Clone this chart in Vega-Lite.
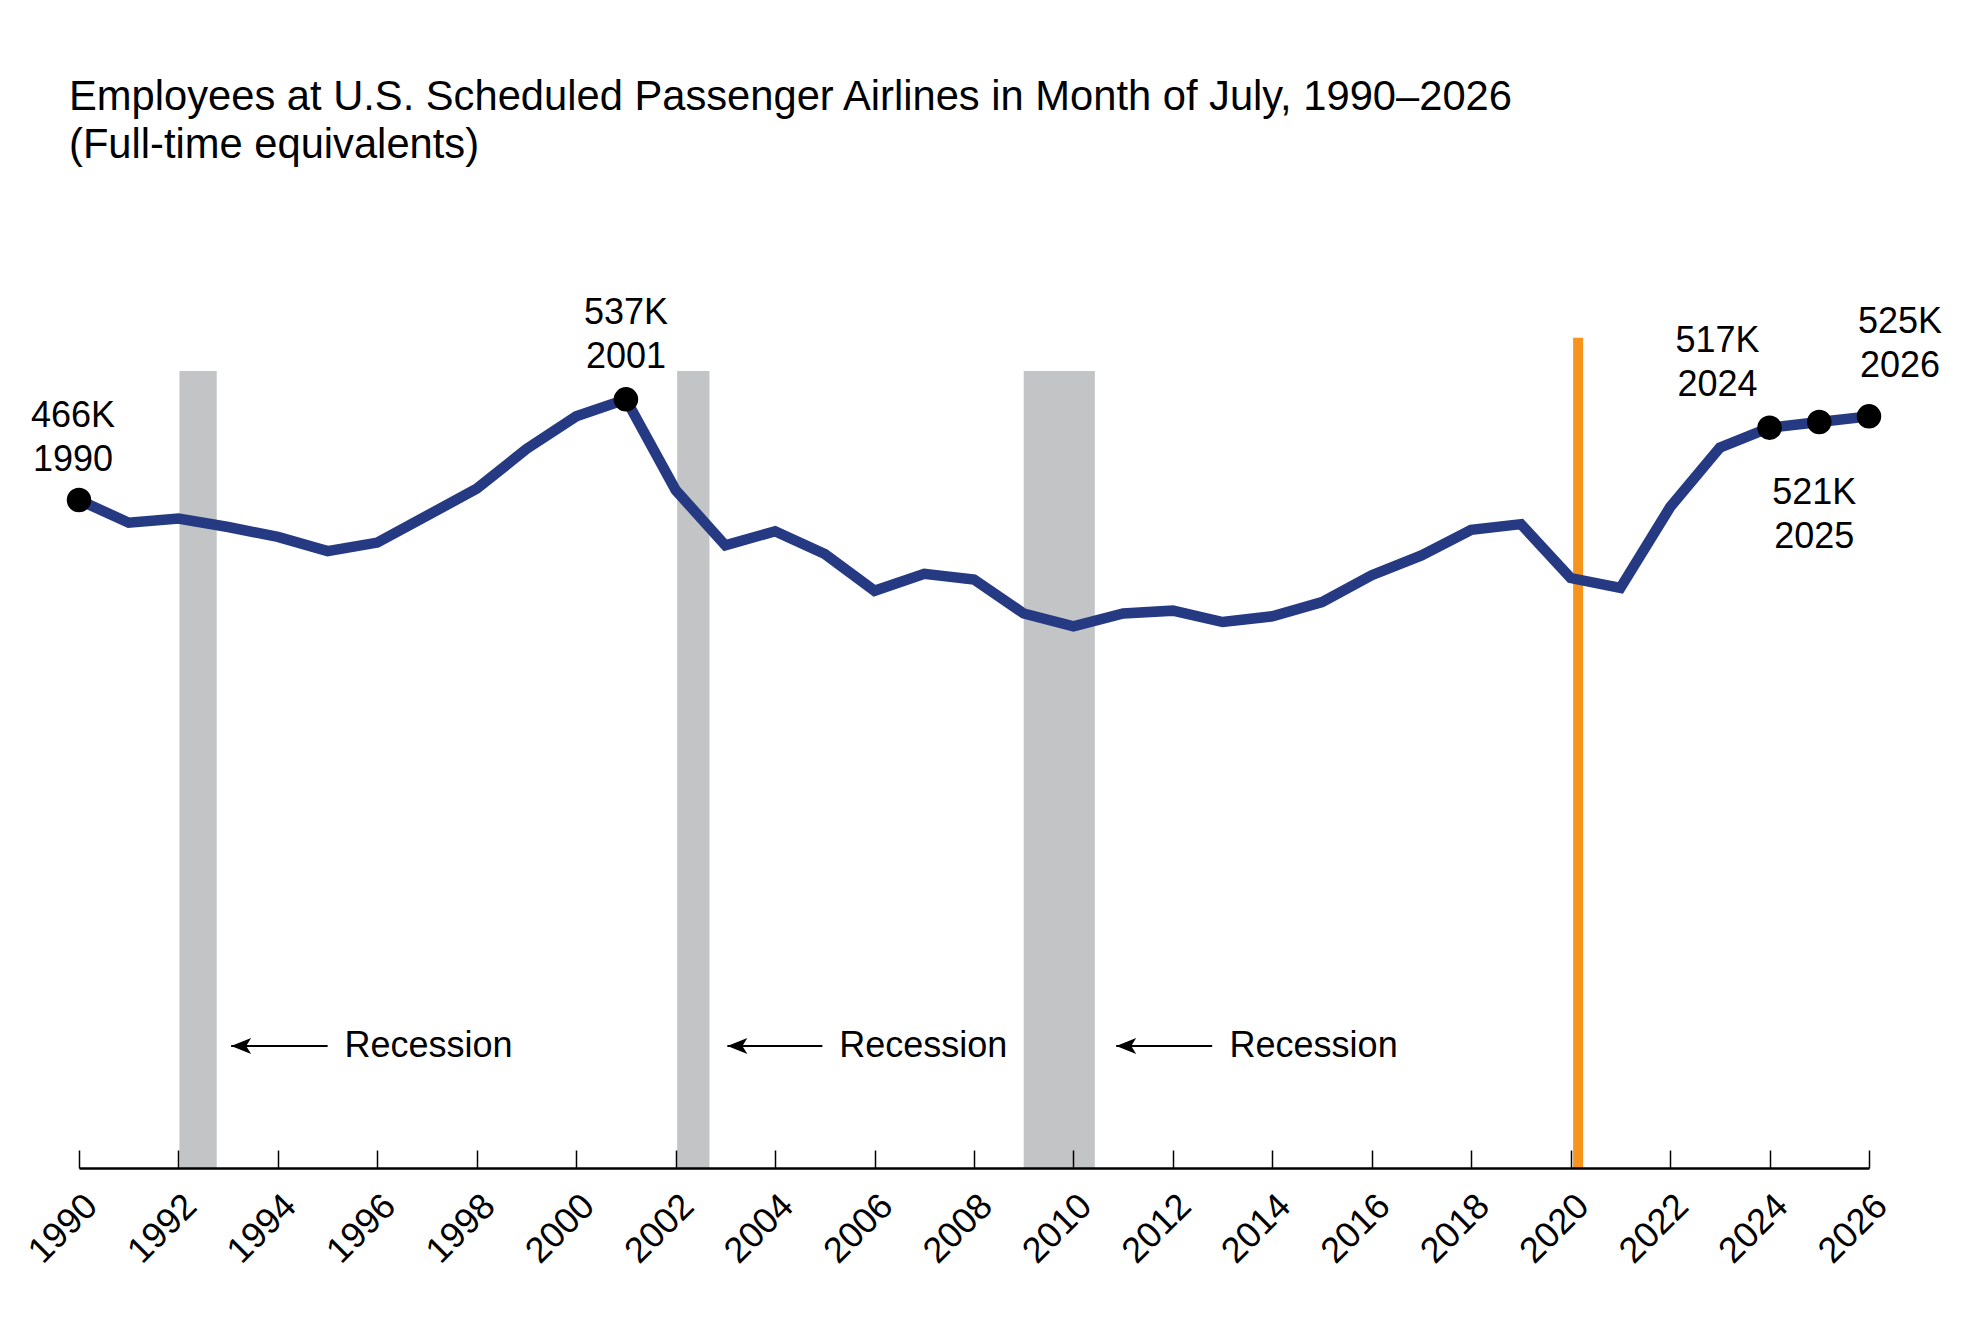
{
  "$schema": "https://vega.github.io/schema/vega-lite/v6.json",
  "width": 1790,
  "height": 858,
  "autosize": "none",
  "padding": {"left": 79, "top": 310, "right": 93, "bottom": 158},
  "background": "white",
  "config": {
    "view": {"stroke": null},
    "font": "Liberation Sans",
    "text": {"font": "Liberation Sans", "fontSize": 36, "color": "black"}
  },
  "title": {
    "text": ["Employees at U.S. Scheduled Passenger Airlines in Month of July, 1990\u20132026", "(Full-time equivalents)"],
    "anchor": "start",
    "frame": "group",
    "orient": "top",
    "baseline": "alphabetic",
    "offset": 96,
    "dx": -10,
    "font": "Liberation Sans",
    "fontSize": 41.7,
    "fontWeight": "normal",
    "color": "black",
    "lineHeight": 48
  },
  "datasets": {
    "employees": [
      {"year": 1990, "value": 466},
      {"year": 1991, "value": 450},
      {"year": 1992, "value": 453},
      {"year": 1993, "value": 447},
      {"year": 1994, "value": 440},
      {"year": 1995, "value": 430},
      {"year": 1996, "value": 436},
      {"year": 1997, "value": 455},
      {"year": 1998, "value": 474},
      {"year": 1999, "value": 502},
      {"year": 2000, "value": 525},
      {"year": 2001, "value": 537},
      {"year": 2002, "value": 473},
      {"year": 2003, "value": 434},
      {"year": 2004, "value": 444},
      {"year": 2005, "value": 428},
      {"year": 2006, "value": 402},
      {"year": 2007, "value": 414},
      {"year": 2008, "value": 410},
      {"year": 2009, "value": 386},
      {"year": 2010, "value": 377},
      {"year": 2011, "value": 386},
      {"year": 2012, "value": 388},
      {"year": 2013, "value": 380},
      {"year": 2014, "value": 384},
      {"year": 2015, "value": 394},
      {"year": 2016, "value": 413},
      {"year": 2017, "value": 427},
      {"year": 2018, "value": 445},
      {"year": 2019, "value": 449},
      {"year": 2020, "value": 411},
      {"year": 2021, "value": 404},
      {"year": 2022, "value": 461},
      {"year": 2023, "value": 503},
      {"year": 2024, "value": 517},
      {"year": 2025, "value": 521},
      {"year": 2026, "value": 525}
    ],
    "notes": [
      {"year": 1990, "value": 466, "label": "466K\n1990"},
      {"year": 2001, "value": 537, "label": "537K\n2001"},
      {"year": 2024, "value": 517, "label": "517K\n2024"},
      {"year": 2025, "value": 521, "label": "521K\n2025"},
      {"year": 2026, "value": 525, "label": "525K\n2026"}
    ],
    "recessions": [
      {"start": 1992.02, "end": 1992.77, "arrow_from": 1993.06, "arrow_to": 1995.0, "text_at": 1995.34},
      {"start": 2002.03, "end": 2002.68, "arrow_from": 2003.04, "arrow_to": 2004.95, "text_at": 2005.29},
      {"start": 2009.0, "end": 2010.43, "arrow_from": 2010.86, "arrow_to": 2012.79, "text_at": 2013.14}
    ]
  },
  "encoding": {
    "x": {
      "type": "quantitative",
      "scale": {"domain": [1990, 2026], "nice": false, "zero": false},
      "axis": {
        "title": null,
        "values": [1990, 1992, 1994, 1996, 1998, 2000, 2002, 2004, 2006, 2008, 2010, 2012, 2014, 2016, 2018, 2020, 2022, 2024, 2026],
        "format": "d",
        "grid": false,
        "labelAngle": -45,
        "labelFont": "Liberation Sans",
        "labelFontSize": 36,
        "labelColor": "black",
        "labelPadding": 38,
        "labelOverlap": false,
        "labelFlush": false,
        "labelBound": false,
        "tickSize": -18,
        "tickColor": "black",
        "tickWidth": 1.5,
        "domainColor": "black",
        "domainWidth": 2.5,
        "zindex": 1
      }
    },
    "y": {
      "type": "quantitative",
      "scale": {"domain": [-5, 600], "nice": false, "zero": false},
      "axis": null
    }
  },
  "layer": [
    {
      "data": {"name": "recessions"},
      "mark": {"type": "rect", "color": "#c3c4c6"},
      "encoding": {
        "x": {"field": "start", "type": "quantitative"},
        "x2": {"field": "end"},
        "y": {"datum": 557},
        "y2": {"datum": -5}
      }
    },
    {
      "data": {"name": "recessions"},
      "mark": {"type": "rule", "color": "black", "strokeWidth": 2},
      "encoding": {
        "x": {"field": "arrow_from", "type": "quantitative"},
        "x2": {"field": "arrow_to"},
        "y": {"datum": 81}
      }
    },
    {
      "data": {"name": "recessions"},
      "mark": {
        "type": "point",
        "shape": "M0,0L2,-0.8L1.5,0L2,0.8Z",
        "size": 400,
        "filled": true,
        "color": "black",
        "opacity": 1
      },
      "encoding": {
        "x": {"field": "arrow_from", "type": "quantitative"},
        "y": {"datum": 81}
      }
    },
    {
      "data": {"name": "recessions"},
      "mark": {"type": "text", "text": "Recession", "align": "left", "baseline": "middle"},
      "encoding": {
        "x": {"field": "text_at", "type": "quantitative"},
        "y": {"datum": 81}
      }
    },
    {
      "data": {"values": [{"year": 2020.15}]},
      "mark": {"type": "rule", "color": "#f7941d", "strokeWidth": 10},
      "encoding": {
        "x": {"field": "year", "type": "quantitative"},
        "y": {"datum": 580.5},
        "y2": {"datum": -5}
      }
    },
    {
      "data": {"name": "employees"},
      "mark": {"type": "line", "color": "#253a82", "strokeWidth": 10.5},
      "encoding": {
        "x": {"field": "year", "type": "quantitative"},
        "y": {"field": "value", "type": "quantitative"}
      }
    },
    {
      "data": {"name": "notes"},
      "mark": {"type": "circle", "color": "black", "size": 600, "opacity": 1},
      "encoding": {
        "x": {"field": "year", "type": "quantitative"},
        "y": {"field": "value", "type": "quantitative"}
      }
    },
    {
      "data": {"name": "notes"},
      "transform": [{"filter": "datum.year === 1990"}],
      "mark": {"type": "text", "lineBreak": "\n", "lineHeight": 44, "align": "center", "baseline": "middle", "dx": -6, "dy": -84},
      "encoding": {
        "x": {"field": "year", "type": "quantitative"},
        "y": {"field": "value", "type": "quantitative"},
        "text": {"field": "label"}
      }
    },
    {
      "data": {"name": "notes"},
      "transform": [{"filter": "datum.year === 2001"}],
      "mark": {"type": "text", "lineBreak": "\n", "lineHeight": 44, "align": "center", "baseline": "middle", "dx": 0, "dy": -86},
      "encoding": {
        "x": {"field": "year", "type": "quantitative"},
        "y": {"field": "value", "type": "quantitative"},
        "text": {"field": "label"}
      }
    },
    {
      "data": {"name": "notes"},
      "transform": [{"filter": "datum.year === 2024"}],
      "mark": {"type": "text", "lineBreak": "\n", "lineHeight": 44, "align": "center", "baseline": "middle", "dx": -52, "dy": -87},
      "encoding": {
        "x": {"field": "year", "type": "quantitative"},
        "y": {"field": "value", "type": "quantitative"},
        "text": {"field": "label"}
      }
    },
    {
      "data": {"name": "notes"},
      "transform": [{"filter": "datum.year === 2025"}],
      "mark": {"type": "text", "lineBreak": "\n", "lineHeight": 44, "align": "center", "baseline": "middle", "dx": -5, "dy": 71},
      "encoding": {
        "x": {"field": "year", "type": "quantitative"},
        "y": {"field": "value", "type": "quantitative"},
        "text": {"field": "label"}
      }
    },
    {
      "data": {"name": "notes"},
      "transform": [{"filter": "datum.year === 2026"}],
      "mark": {"type": "text", "lineBreak": "\n", "lineHeight": 44, "align": "center", "baseline": "middle", "dx": 31, "dy": -94},
      "encoding": {
        "x": {"field": "year", "type": "quantitative"},
        "y": {"field": "value", "type": "quantitative"},
        "text": {"field": "label"}
      }
    }
  ]
}
